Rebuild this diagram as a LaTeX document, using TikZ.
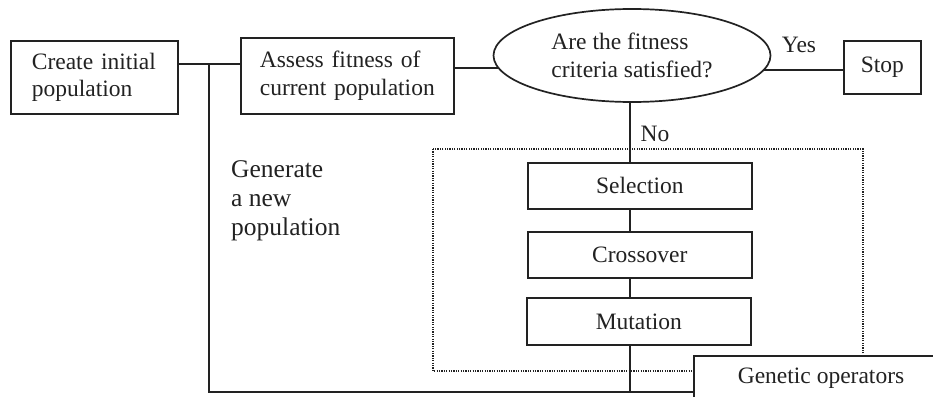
\documentclass[tikz,border=0pt]{standalone}
\usepackage{fontspec}
\setmainfont{Liberation Serif}
\usetikzlibrary{shapes.geometric,backgrounds}
\definecolor{ink}{HTML}{222222}
\begin{document}
\begin{tikzpicture}[x=1pt,y=-1pt,
  every node/.style={font=\fontsize{23.5}{27.5}\selectfont, text=ink},
  box/.style={draw=ink, line width=1.7pt, fill=white, rectangle, inner sep=0pt},
  conn/.style={draw=ink, line width=1.7pt},
  dotbox/.style={draw=ink, line width=1.2pt, dash pattern=on 1.2pt off 1.2pt},
  lbl/.style={inner sep=0pt}]
\useasboundingbox (0,0) rectangle (933,396);
% nodes
\node[box, anchor=north west, minimum width=167pt, minimum height=73pt, text width=125pt, align=left, inner xsep=21pt] (create) at (10,40) {Create initial\\population};
\node[box, anchor=north west, minimum width=213pt, minimum height=76pt, text width=175pt, align=left, inner xsep=19pt] (assess) at (240,37) {Assess fitness of\\current population};
\node[box, ellipse, minimum width=277pt, minimum height=93pt, align=left] (q) at (632,55.5) {Are the fitness\\criteria satisfied?};
\node[box, anchor=north west, minimum width=77pt, minimum height=53pt] (stop) at (843,40) {Stop};
\draw[dotbox] (433,149) rectangle (863,371);
\node[box, anchor=north west, minimum width=224pt, minimum height=46pt] (sel) at (527,162) {Selection};
\node[box, anchor=north west, minimum width=224pt, minimum height=46pt] (cross) at (527,231) {Crossover};
\node[box, anchor=north west, minimum width=224pt, minimum height=47pt] (mut) at (526,297) {Mutation};
\node[box, anchor=north west, minimum width=260pt, minimum height=60pt] (gen) at (693,355) {};
\node[lbl] (genlbl) at (821,378) {Genetic operators};
\node[lbl] (yes) at (799,45) {Yes};
\node[lbl] (no) at (655,134) {No};
\node[lbl, anchor=north west, align=left, font=\fontsize{25.5}{29}\selectfont] (newpop) at (231,160) {Generate\\a new\\population};
% connectors
\coordinate (j1) at (209,64);
\coordinate (jb) at (630,392);
\begin{scope}[on background layer]
\fill[white] (0,0) rectangle (933,396);
\draw[conn] (create.east |- j1) -- (assess.west |- j1);
\draw[conn] (j1) |- (gen.west |- jb);
\draw[conn] (assess.east |- 0,68) -- (q.center |- 0,68);
\draw[conn] (q.center |- 0,70) -- (stop.west |- 0,70);
\draw[conn] (q.center -| jb) -- (jb);
\end{scope}
\end{tikzpicture}
\end{document}
